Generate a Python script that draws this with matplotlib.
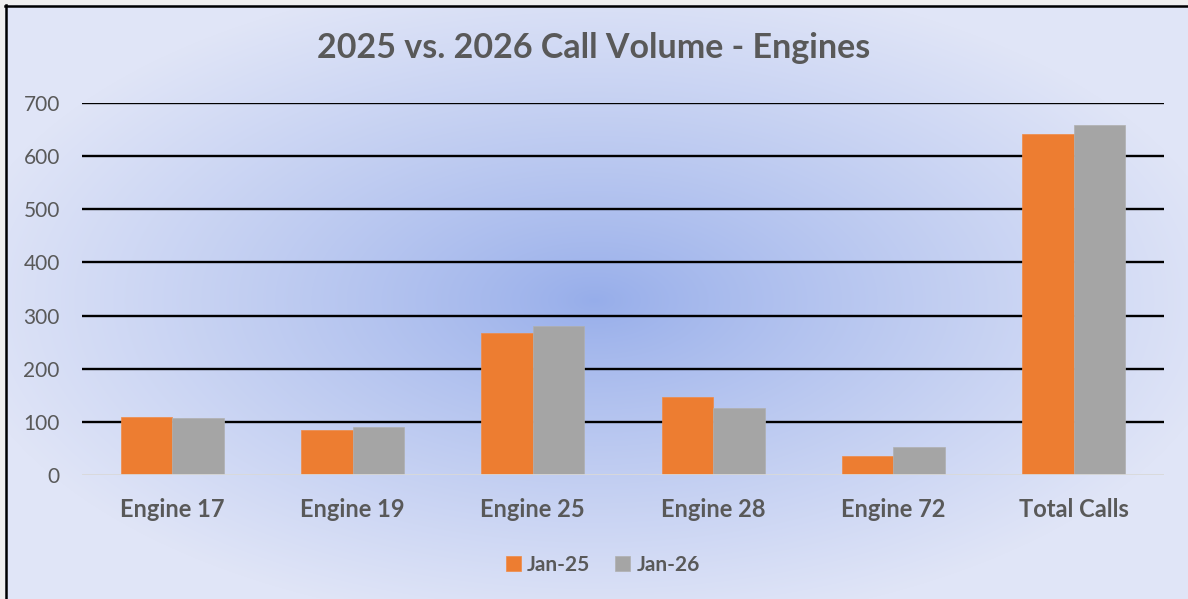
import numpy as np
import matplotlib
matplotlib.use("Agg")
import matplotlib.pyplot as plt
from matplotlib.lines import Line2D

categories = ["Engine 17", "Engine 19", "Engine 25", "Engine 28", "Engine 72", "Total Calls"]
jan25 = [109, 85, 268, 146, 36, 642]
jan26 = [108, 90, 280, 126, 53, 658]
series_names = ["Jan-25", "Jan-26"]
yticks = [0, 100, 200, 300, 400, 500, 600, 700]

ORANGE = "#ED7D31"
GRAY = "#A5A5A5"
TEXT = "#595959"
FONT = "Lato"

W, H = 1188, 599
fig = plt.figure(figsize=(W / 100, H / 100), dpi=100)
fig.patch.set_facecolor("#EFEFEF")

# background gradient
bg = fig.add_axes([0, 0, 1, 1], zorder=-10)
bg.set_axis_off()
yy, xx = np.mgrid[0:H, 0:W]
cx, cy = 594, 300
d = np.sqrt(((xx - cx) / 640.0) ** 2 + ((yy - cy) / 330.0) ** 2)
d = np.clip(d, 0, 1) ** 0.85
c0 = np.array([150, 173, 234]) / 255.0
c1 = np.array([224, 229, 247]) / 255.0
img = c0[None, None, :] * (1 - d[..., None]) + c1[None, None, :] * d[..., None]
img[:5, :, :] = 0.94
img[:, :5, :] = 0.94
bg.imshow(img, extent=[0, W, H, 0], aspect="auto", interpolation="bilinear")
bg.set_xlim(0, W)
bg.set_ylim(H, 0)
bg.add_line(Line2D([6, 6], [5, H], color="black", lw=1.8))
bg.add_line(Line2D([5, W], [6, 6], color="black", lw=1.8))

ax = fig.add_axes([82 / W, (H - 475) / H, 1082 / W, 372 / H])
ax.set_facecolor("none")
x = np.arange(len(categories))
bw = 0.286
ax.bar(x - bw / 2, jan25, width=bw, color=ORANGE, edgecolor="#F08A45", lw=0.5, label=series_names[0], zorder=3)
ax.bar(x + bw / 2, jan26, width=bw, color=GRAY, edgecolor="#B0B0B0", lw=0.5, label=series_names[1], zorder=3)

ax.set_xlim(-0.5, len(categories) - 0.5)
ax.set_ylim(0, 700)
ax.set_yticks(yticks)
for v in yticks[1:]:
    ax.axhline(v, color="black", lw=1.7, zorder=1)
ax.axhline(0, color="#D9D9D9", lw=2, zorder=4)
for s in ax.spines.values():
    s.set_visible(False)
ax.tick_params(axis="y", length=0, pad=16, labelsize=15, labelcolor=TEXT)
ax.tick_params(axis="x", length=0, pad=16.5, labelsize=17, labelcolor=TEXT)
ax.set_xticks(x)
ax.set_xticklabels(categories, fontweight="bold", fontfamily=FONT)
for t in ax.get_yticklabels():
    t.set_fontfamily(FONT)

fig.text(0.5, 1 - 48 / H, "2025 vs. 2026 Call Volume - Engines", ha="center", va="center",
         fontsize=24.5, fontweight="bold", color=TEXT, fontfamily=FONT)

fig.legend(loc="center", bbox_to_anchor=(603 / W, 1 - 565 / H), ncol=2, frameon=False,
           prop={"family": FONT, "weight": "bold", "size": 15}, labelcolor=TEXT,
           handlelength=0.7, handleheight=0.7, handletextpad=0.3, columnspacing=1.2)

fig.savefig("out.png", dpi=100)
